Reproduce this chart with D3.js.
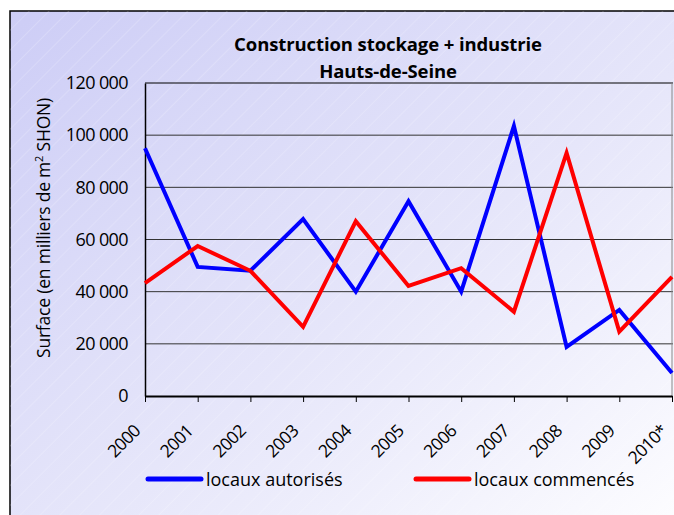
<!DOCTYPE html>
<html>
<head>
<meta charset="utf-8">
<script src="https://cdn.jsdelivr.net/npm/d3@7"></script>
<style>
  body { margin: 0; background: #fff; }
  svg { display: block; font-family: "Open Sans", "DejaVu Sans", sans-serif; }
</style>
</head>
<body>
<svg id="chart" width="674" height="515"></svg>
<script>
// values
const years = ["2000", "2001", "2002", "2003", "2004", "2005", "2006", "2007", "2008", "2009", "2010*"];
const autorises = [95000, 49500, 48000, 67800, 40000, 74700, 40000, 103500, 18800, 33000, 8800];
const commences = [43300, 57500, 48000, 26500, 67000, 42200, 49000, 32300, 93200, 24700, 45700];
const yTicks = [0, 20000, 40000, 60000, 80000, 100000, 120000];

const margin = { top: 83, right: 1, bottom: 119, left: 145 };
const W = 674, H = 515;
const width = W - margin.left - margin.right;
const height = H - margin.top - margin.bottom;

const svg = d3.select("#chart");

// background gradient + faint hatch
const defs = svg.append("defs");
const grad = defs.append("linearGradient").attr("id", "bg")
    .attr("x1", "0%").attr("y1", "0%").attr("x2", "100%").attr("y2", "100%");
grad.append("stop").attr("offset", "0%").attr("stop-color", "#cdcdf6");
grad.append("stop").attr("offset", "55%").attr("stop-color", "#e6e6fa");
grad.append("stop").attr("offset", "100%").attr("stop-color", "#fdfdff");

const hatch = defs.append("pattern").attr("id", "hatch")
    .attr("width", 14).attr("height", 14)
    .attr("patternUnits", "userSpaceOnUse")
    .attr("patternTransform", "rotate(-45)");
hatch.append("line").attr("x1", 0).attr("y1", 0).attr("x2", 14).attr("y2", 0)
    .attr("stroke", "#ffffff").attr("stroke-opacity", 0.35).attr("stroke-width", 1);

svg.append("rect").attr("x", 10).attr("y", 11).attr("width", W).attr("height", H)
    .attr("fill", "url(#bg)").attr("stroke", "#000").attr("stroke-width", 1.5);
svg.append("rect").attr("x", 10).attr("y", 11).attr("width", W).attr("height", H)
    .attr("fill", "url(#hatch)");

// title
svg.append("text").attr("x", 388).attr("y", 51).attr("text-anchor", "middle")
    .attr("font-size", 18.5).attr("font-weight", "bold").attr("letter-spacing", -0.1)
    .text("Construction stockage + industrie");
svg.append("text").attr("x", 388).attr("y", 78).attr("text-anchor", "middle")
    .attr("font-size", 18.5).attr("font-weight", "bold").attr("letter-spacing", -0.1)
    .text("Hauts-de-Seine");

const g = svg.append("g").attr("transform", `translate(${margin.left},${margin.top})`);

const x = d3.scalePoint().domain(years).range([0, width - 1]);
const y = d3.scaleLinear().domain([0, 120000]).range([height, 0]);

// gridlines
g.selectAll(".grid").data(yTicks.slice(1)).enter().append("line")
    .attr("x1", 0).attr("x2", width)
    .attr("y1", d => y(d)).attr("y2", d => y(d))
    .attr("stroke", d => d === 120000 ? "#000" : "#333").attr("stroke-width", 1);

// right edge
g.append("line").attr("x1", width - 1).attr("x2", width - 1).attr("y1", 0).attr("y2", height)
    .attr("stroke", "#888").attr("stroke-width", 1);

// y axis
const fmt = d => d3.format(",")(d).replace(/,/g, " ");
const yAxis = g.append("g").call(d3.axisLeft(y).tickValues(yTicks).tickSize(0).tickPadding(17).tickFormat(fmt));
yAxis.select(".domain").attr("stroke", "#000").attr("stroke-width", 1.5);
yAxis.selectAll("text").attr("font-size", 18).attr("fill", "#000")
    .attr("font-family", "'Open Sans', sans-serif").attr("letter-spacing", -0.6);

// x axis
const xAxis = g.append("g").attr("transform", `translate(0,${height})`)
    .call(d3.axisBottom(x).tickSize(6).tickSizeOuter(0));
xAxis.select(".domain").attr("stroke", "#000").attr("stroke-width", 2);
xAxis.selectAll(".tick line").attr("stroke", "#000").attr("stroke-width", 1);
xAxis.selectAll("text")
    .attr("font-size", 17.5).attr("fill", "#000")
    .attr("font-family", "'Open Sans', sans-serif").attr("letter-spacing", -0.6)
    .attr("text-anchor", "end")
    .attr("dy", 0).attr("y", 0)
    .attr("transform", "translate(-4,36) rotate(-45)");

// y axis title
svg.append("text")
    .attr("transform", `translate(50,${228}) rotate(-90)`)
    .attr("text-anchor", "middle").attr("font-size", 17.5).attr("letter-spacing", -0.2)
    .html('Surface (en milliers de m<tspan dy="-7" font-size="11">2</tspan><tspan dy="7"> SHON)</tspan>');

// lines
const line = d3.line().x((d, i) => x(years[i])).y(d => y(d));
const series = [
    { name: "locaux autorisés", values: autorises, color: "#0000ff" },
    { name: "locaux commencés", values: commences, color: "#ff0000" }
];
g.selectAll(".series").data(series).enter().append("path")
    .attr("d", d => line(d.values))
    .attr("fill", "none").attr("stroke", d => d.color)
    .attr("stroke-width", 4).attr("stroke-linejoin", "miter");

// legend
const legendX = [148, 416];
const leg = svg.selectAll(".leg").data(series).enter().append("g")
    .attr("transform", (d, i) => `translate(${legendX[i]},479)`);
leg.append("line").attr("x1", 0).attr("x2", 53).attr("y1", 0).attr("y2", 0)
    .attr("stroke", d => d.color).attr("stroke-width", 5).attr("stroke-linecap", "round");
leg.append("text").attr("x", 58).attr("y", 7).attr("font-size", 18)
    .text(d => d.name);
</script>
</body>
</html>
